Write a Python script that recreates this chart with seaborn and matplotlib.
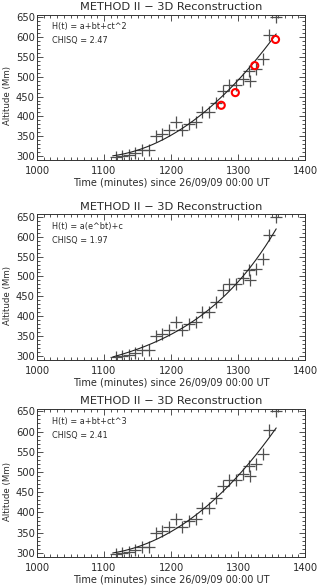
import numpy as np
import pandas as pd
import matplotlib
matplotlib.use("Agg")
import matplotlib.pyplot as plt
from matplotlib.ticker import MultipleLocator
import seaborn as sns

# ---- data ----
time_min = [1118, 1127, 1137, 1147, 1157, 1167, 1177, 1187, 1197, 1207,
            1217, 1227, 1237, 1247, 1257, 1267, 1277, 1287, 1297, 1307,
            1317, 1318, 1327, 1337, 1347, 1357]
altitude = [297, 299, 303, 308, 314, 314, 350, 355, 365, 385,
            365, 380, 385, 410, 410, 435, 465, 480, 480, 495,
            515, 490, 520, 545, 605, 650]
red_time = [1275, 1296, 1325, 1356]
red_alt = [428, 460, 528, 594]

titles = ["METHOD II \u2212 3D Reconstruction"] * 3
models = ["H(t) = a+bt+ct^2", "H(t) = a(e^bt)+c", "H(t) = a+bt+ct^3"]
chisq = ["2.47", "1.97", "2.41"]
x_label = "Time (minutes) since 26/09/09 00:00 UT"
y_label = "Altitude (Mm)"

df = pd.DataFrame({"t": time_min, "h": altitude})
df_red = pd.DataFrame({"t": red_time, "h": red_alt})

t = np.array(time_min, float)
h = np.array(altitude, float)
tf = np.linspace(t.min() - 5, t.max(), 200)


def fit_quad():
    c = np.polyfit(t, h, 2)
    return np.polyval(c, tf)


def fit_cubic():
    s = t / 1000.0
    A = np.vstack([np.ones_like(s), s, s ** 3]).T
    coef, *_ = np.linalg.lstsq(A, h, rcond=None)
    sf = tf / 1000.0
    return coef[0] + coef[1] * sf + coef[2] * sf ** 3


def fit_exp():
    best = None
    for b in np.linspace(0.001, 0.05, 2000):
        e = np.exp(b * (t - 1100))
        A = np.vstack([e, np.ones_like(e)]).T
        coef, *_ = np.linalg.lstsq(A, h, rcond=None)
        r = np.sum((A @ coef - h) ** 2)
        if best is None or r < best[0]:
            best = (r, b, coef)
    _, b, coef = best
    return coef[0] * np.exp(b * (tf - 1100)) + coef[1]


fits = [fit_quad(), fit_exp(), fit_cubic()]

sns.set_theme(style="white")
plt.rcParams["font.family"] = ["DejaVu Sans"]
txt = "#2a2a2a"

W, H = 318, 586
fig = plt.figure(figsize=(W / 100, H / 100), dpi=100)
fig.patch.set_facecolor("white")

boxes = [(14.5, 160), (214, 360), (408.5, 557)]
left, right = 37, 305

for i, (top, bot) in enumerate(boxes):
    ax = fig.add_axes([left / W, 1 - bot / H, (right - left) / W, (bot - top) / H])
    ax.set_facecolor("white")
    sns.scatterplot(data=df, x="t", y="h", marker="+", s=70, color="#505050",
                    linewidth=0.9, ax=ax, legend=False)
    fdf = pd.DataFrame({"t": tf, "h": fits[i]})
    sns.lineplot(data=fdf, x="t", y="h", color="#222222", linewidth=0.8,
                 ax=ax, sort=False, estimator=None, legend=False)
    if i == 0:
        sns.scatterplot(data=df_red, x="t", y="h", marker="o", s=26,
                        facecolor="none", edgecolor="#ff0000", linewidth=1.5,
                        ax=ax, legend=False, zorder=5)
    ax.set_xlim(1000, 1400)
    ax.set_ylim(290, 657)
    ax.xaxis.set_major_locator(MultipleLocator(100))
    ax.xaxis.set_minor_locator(MultipleLocator(10))
    ax.yaxis.set_major_locator(MultipleLocator(50))
    ax.yaxis.set_minor_locator(MultipleLocator(10))
    ax.tick_params(which="both", direction="in", top=True, right=True,
                   bottom=True, left=True, color="#333333", width=0.6,
                   labelsize=7.2, labelcolor=txt)
    ax.tick_params(which="major", length=4)
    ax.tick_params(which="minor", length=2)
    ax.tick_params(axis="x", which="major", pad=4.5)
    ax.tick_params(axis="y", which="major", pad=1.5)
    for sp in ax.spines.values():
        sp.set_color("#333333")
        sp.set_linewidth(0.7)
    ax.set_xlabel(x_label, fontsize=7.0, color=txt, labelpad=1)
    ax.set_ylabel(y_label, fontsize=6.2, color=txt, labelpad=4)
    ax.yaxis.set_label_coords(-0.092, 0.44)
    ax.set_title(titles[i], fontsize=8.2, color=txt, pad=3)
    ax.text(0.055, 0.915, models[i], transform=ax.transAxes, fontsize=5.9,
            color=txt, va="center", ha="left")
    ax.text(0.055, 0.82, "CHISQ = " + chisq[i], transform=ax.transAxes,
            fontsize=5.9, color=txt, va="center", ha="left")

fig.savefig("out.png", dpi=100, facecolor="white")
